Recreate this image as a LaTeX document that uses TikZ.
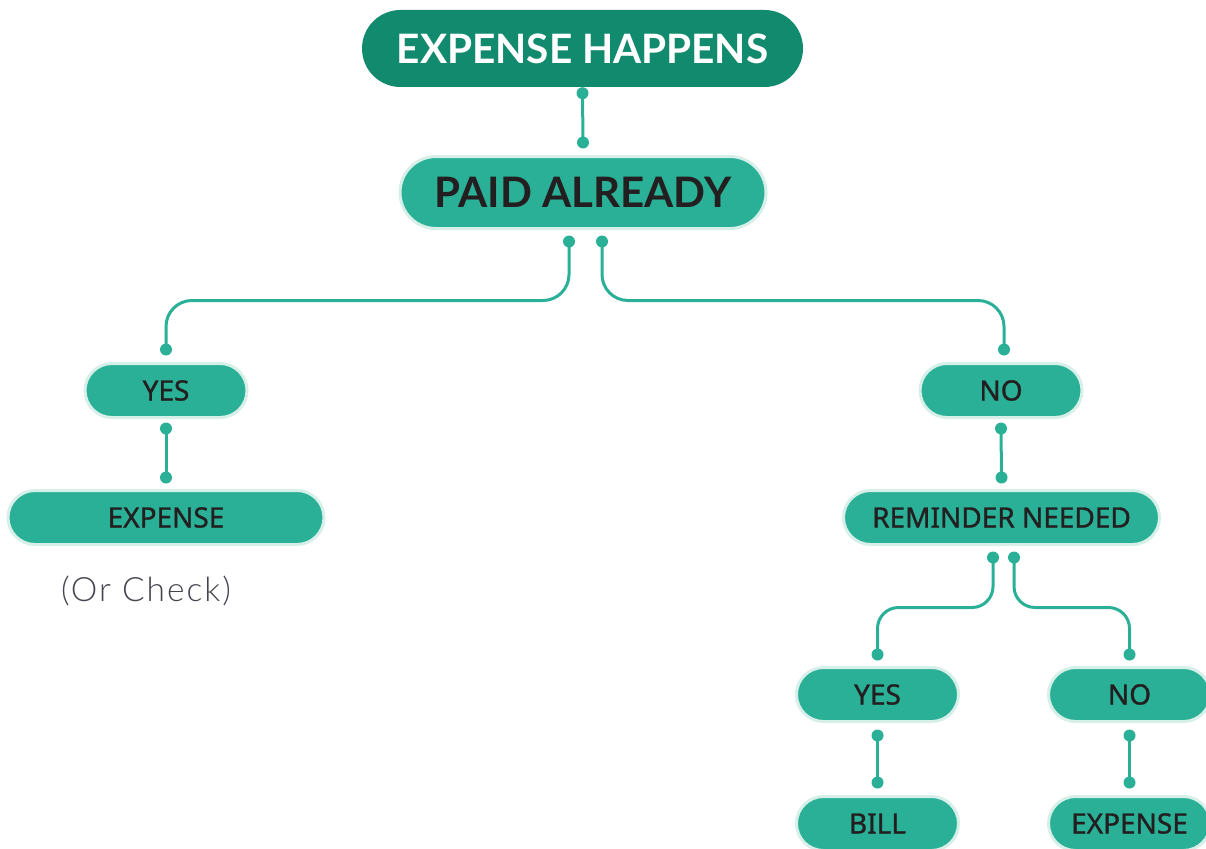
\documentclass[tikz,border=0pt]{standalone}
\usepackage{fontspec}
\setmainfont{Noto Sans}[FakeBold=1.1]
\newfontfamily\latofont{Lato}
\newfontfamily\lightfont{Lato Light}[LetterSpace=6]
\usetikzlibrary{calc}
\definecolor{tealfill}{HTML}{29B096}
\definecolor{darkfill}{HTML}{128A6E}
\definecolor{halo}{HTML}{D6EFE8}
\definecolor{txt}{HTML}{231F20}
\definecolor{graytxt}{HTML}{45454F}
\tikzset{
  pill/.style={fill=tealfill, draw=halo, line width=3pt, rounded corners=27pt,
    minimum width=162pt, minimum height=54pt, inner sep=0pt, text=txt,
    font=\fontsize{28}{30}\selectfont},
  widepill/.style={pill, minimum width=316pt},
  conn/.style={draw=tealfill, line width=3pt},
  dotfill/.style={fill=tealfill},
}
\begin{document}
\begin{tikzpicture}[x=1pt,y=-1pt]
\useasboundingbox (0,0) rectangle (1206,848);
% nodes
\node[fill=darkfill, rounded corners=38.5pt, minimum width=441pt, minimum height=77pt,
  inner sep=0pt, text=white, font=\latofont\bfseries\fontsize{40.5}{44}\selectfont]
  (top) at (582.5,48.5) {EXPENSE HAPPENS};
\node[fill=tealfill, draw=halo, line width=3pt, rounded corners=36pt, minimum width=366pt,
  minimum height=72pt, inner sep=0pt, text=txt, font=\latofont\bfseries\fontsize{42}{46}\selectfont]
  (paid) at (583,192.5) {PAID ALREADY};
\node[pill] (yesL) at (166,390.5) {YES};
\node[widepill] (expL) at (166,517.5) {EXPENSE};
\node[text=graytxt, font=\lightfont\fontsize{33.5}{38}\selectfont] (orc) at (146,591) {(Or Check)};
\node[pill] (noR) at (1001,390.5) {NO};
\node[widepill] (rem) at (1001.5,517.5) {REMINDER NEEDED};
\node[pill] (yesB) at (877.5,694.5) {YES};
\node[pill] (noB) at (1129.5,694.5) {NO};
\node[pill] (bill) at (877.5,823.5) {BILL};
\node[pill] (expB) at (1129.5,823.5) {EXPENSE};
% dot coordinates
\coordinate (a1) at ($(top.south)+(0,6)$);
\coordinate (a2) at ($(paid.north)+(0,-12.5)$);
\coordinate (b1) at ($(paid.south)+(-14,11.5)$);
\coordinate (b2) at ($(paid.south)+(19,11.5)$);
\coordinate (c1) at ($(yesL.north)+(0,-12.5)$);
\coordinate (c2) at ($(noR.north)+(3,-12.5)$);
\coordinate (d1) at ($(yesL.south)+(0,9.5)$);
\coordinate (d2) at ($(expL.north)+(0,-11.5)$);
\coordinate (e1) at ($(noR.south)+(0,9.5)$);
\coordinate (e2) at ($(rem.north)+(0,-11.5)$);
\coordinate (f1) at ($(rem.south)+(-8.5,11.5)$);
\coordinate (f2) at ($(rem.south)+(12.5,11.5)$);
\coordinate (g1) at ($(yesB.north)+(0,-11.5)$);
\coordinate (g2) at ($(noB.north)+(0,-11.5)$);
\coordinate (h1) at ($(yesB.south)+(0,12.5)$);
\coordinate (h2) at ($(bill.north)+(0,-12.5)$);
\coordinate (i1) at ($(noB.south)+(0,12.5)$);
\coordinate (i2) at ($(expB.north)+(0,-12.5)$);
% connectors
\draw[conn] (a1) -- (a2);
\draw[conn, rounded corners=26pt] (b1) |- ($(c1)+(0,-49)$) -- (c1);
\draw[conn, rounded corners=26pt] (b2) |- ($(c2)+(0,-49)$) -- (c2);
\draw[conn] (d1) -- (d2);
\draw[conn] (e1) -- (e2);
\draw[conn, rounded corners=21pt] (f1) |- ($(g1)+(0,-47)$) -- (g1);
\draw[conn, rounded corners=21pt] (f2) |- ($(g2)+(0,-47)$) -- (g2);
\draw[conn] (h1) -- (h2);
\draw[conn] (i1) -- (i2);
\foreach \p in {a1,a2,b1,b2,c1,c2,d1,d2,e1,e2,f1,f2,g1,g2,h1,h2,i1,i2}
  \fill[dotfill] (\p) circle (6pt);
\end{tikzpicture}
\end{document}
